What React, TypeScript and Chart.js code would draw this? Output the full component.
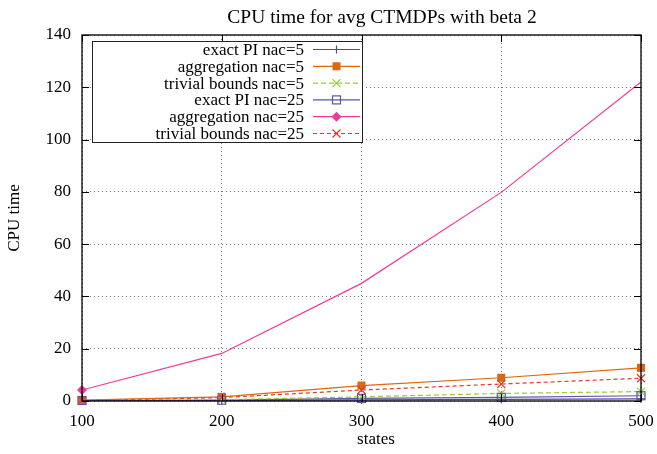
import React, { useEffect, useRef } from "react";
import { Chart, registerables } from "chart.js";

Chart.register(...registerables);

// Problem sizes (number of states)
const states = [100, 200, 300, 400, 500];

// CPU time per method
const exactPiNac5 = [0.1, 0.2, 0.4, 0.6, 0.8];
const aggregationNac5 = [0.3, 1.6, 5.9, 8.9, 12.7];
const trivialBoundsNac5 = [0.1, 0.5, 1.6, 2.9, 3.6];
const exactPiNac25 = [0.2, 0.3, 1.0, 1.4, 2.0];
const aggregationNac25 = [4.2, 18.2, 45.0, 79.8, 122.0];
const trivialBoundsNac25 = [0.2, 1.3, 4.2, 6.5, 8.7];

const yTicks = [0, 20, 40, 60, 80, 100, 120, 140];
const xTicks = [100, 200, 300, 400, 500];

const FONT = "'Liberation Serif', 'DejaVu Serif', serif";

type SeriesDef = {
  label: string;
  data: number[];
  color: string;
  marker: "plus" | "rect" | "x" | "rectOpen" | "diamond";
  dash: number[];
  radius: number[];
};

const series: SeriesDef[] = [
  { label: "exact PI nac=5", data: exactPiNac5, color: "#5a3fb0", marker: "plus", dash: [], radius: [4, 4, 4, 4, 4] },
  { label: "aggregation nac=5", data: aggregationNac5, color: "#e0650f", marker: "rect", dash: [], radius: [4, 4, 4, 4, 4] },
  { label: "trivial bounds nac=5", data: trivialBoundsNac5, color: "#94cf34", marker: "x", dash: [5, 3], radius: [4, 4, 4, 4, 4] },
  { label: "exact PI nac=25", data: exactPiNac25, color: "#5757a8", marker: "rectOpen", dash: [], radius: [4, 4, 4, 4, 4] },
  { label: "aggregation nac=25", data: aggregationNac25, color: "#ee3a9a", marker: "diamond", dash: [], radius: [5, 0, 0, 0, 0] },
  { label: "trivial bounds nac=25", data: trivialBoundsNac25, color: "#e63a2a", marker: "x", dash: [4, 3], radius: [4, 4, 4, 4, 4] },
];

function drawMarker(ctx: CanvasRenderingContext2D, kind: SeriesDef["marker"], x: number, y: number, color: string, r: number) {
  ctx.save();
  ctx.setLineDash([]);
  ctx.strokeStyle = color;
  ctx.fillStyle = color;
  ctx.lineWidth = 1.2;
  ctx.beginPath();
  if (kind === "plus") {
    ctx.moveTo(x - r, y); ctx.lineTo(x + r, y);
    ctx.moveTo(x, y - r); ctx.lineTo(x, y + r);
    ctx.stroke();
  } else if (kind === "x") {
    ctx.moveTo(x - r, y - r); ctx.lineTo(x + r, y + r);
    ctx.moveTo(x - r, y + r); ctx.lineTo(x + r, y - r);
    ctx.stroke();
  } else if (kind === "rect") {
    ctx.fillRect(x - r, y - r, 2 * r, 2 * r);
  } else if (kind === "rectOpen") {
    ctx.strokeRect(x - r, y - r, 2 * r, 2 * r);
  } else if (kind === "diamond") {
    ctx.moveTo(x, y - r); ctx.lineTo(x + r, y); ctx.lineTo(x, y + r); ctx.lineTo(x - r, y);
    ctx.closePath();
    ctx.fill();
  }
  ctx.restore();
}

const decorations = {
  id: "decorations",
  afterDatasetsDraw(chart: any) {
    const { ctx, chartArea } = chart;
    const { left, right, top, bottom } = chartArea;
    const xs = chart.scales.x;
    const ys = chart.scales.y;

    // markers drawn on top of lines
    series.forEach((s) => {
      s.data.forEach((v, i) => {
        const r = s.radius[i];
        if (r > 0) drawMarker(ctx, s.marker, xs.getPixelForValue(states[i]), ys.getPixelForValue(v), s.color, r);
      });
    });

    ctx.save();
    // inward tick marks on all four sides
    ctx.strokeStyle = "#000";
    ctx.lineWidth = 1;
    ctx.beginPath();
    yTicks.forEach((t) => {
      const y = Math.round(ys.getPixelForValue(t)) + 0.5;
      ctx.moveTo(left, y); ctx.lineTo(left + 7, y);
      ctx.moveTo(right, y); ctx.lineTo(right - 7, y);
    });
    xTicks.forEach((t) => {
      const x = Math.round(xs.getPixelForValue(t)) + 0.5;
      ctx.moveTo(x, bottom); ctx.lineTo(x, bottom - 7);
      ctx.moveTo(x, top); ctx.lineTo(x, top + 7);
    });
    ctx.stroke();

    // frame
    ctx.lineWidth = 1.3;
    ctx.strokeRect(left, top, right - left, bottom - top);

    // legend box
    const lx = 92, ly = 41, lw = 270, lh = 101;
    ctx.fillStyle = "#fff";
    ctx.fillRect(lx, ly, lw, lh);
    ctx.strokeStyle = "#222";
    ctx.lineWidth = 1;
    ctx.strokeRect(lx + 0.5, ly + 0.5, lw, lh);
    ctx.font = `17px ${FONT}`;
    ctx.textAlign = "right";
    ctx.textBaseline = "middle";
    series.forEach((s, i) => {
      const y = 49.5 + i * 16.8;
      ctx.fillStyle = "#000";
      ctx.fillText(s.label, 304, y + 1);
      ctx.strokeStyle = s.color;
      ctx.lineWidth = 1.2;
      ctx.setLineDash(s.dash);
      ctx.beginPath();
      ctx.moveTo(313, y); ctx.lineTo(360, y);
      ctx.stroke();
      ctx.setLineDash([]);
      drawMarker(ctx, s.marker, 336.5, y, s.color, s.marker === "diamond" ? 5 : 4);
    });

    // titles
    ctx.fillStyle = "#000";
    ctx.textAlign = "center";
    ctx.textBaseline = "alphabetic";
    ctx.font = `19.5px ${FONT}`;
    ctx.fillText("CPU time for avg CTMDPs with beta 2", 382, 23);
    ctx.font = `17px ${FONT}`;
    ctx.fillText("states", 376, 444);
    ctx.translate(19, 218);
    ctx.rotate(-Math.PI / 2);
    ctx.fillText("CPU time", 0, 0);
    ctx.restore();
  },
};

export default function App() {
  const canvasRef = useRef<HTMLCanvasElement | null>(null);

  useEffect(() => {
    document.body.style.margin = "0";
    const canvas = canvasRef.current;
    if (!canvas) return;
    const chart = new Chart(canvas, {
      type: "line",
      data: {
        datasets: series.map((s) => ({
          label: s.label,
          data: s.data.map((v, i) => ({ x: states[i], y: v })),
          borderColor: s.color,
          backgroundColor: s.color,
          borderWidth: 1.2,
          borderDash: s.dash,
          pointRadius: 0,
          fill: false,
          tension: 0,
        })),
      },
      options: {
        animation: false,
        responsive: false,
        devicePixelRatio: 1,
        layout: { padding: { top: 35, right: 16, left: 0, bottom: 0 } },
        plugins: { legend: { display: false }, title: { display: false }, tooltip: { enabled: false } },
        scales: {
          x: {
            type: "linear",
            min: 100,
            max: 500,
            afterBuildTicks: (scale: any) => { scale.ticks = xTicks.map((v) => ({ value: v })); },
            afterFit: (scale: any) => {
              scale.height = 53;
              scale.paddingLeft = 0;
              scale.paddingRight = 0;
            },
            grid: { color: "#777", drawTicks: false, lineWidth: 1 },
            border: { display: false, dash: [1, 3] },
            ticks: { color: "#000", font: { family: FONT, size: 17 }, padding: 10, maxRotation: 0 },
          },
          y: {
            min: 0,
            max: 140,
            afterBuildTicks: (scale: any) => { scale.ticks = yTicks.map((v) => ({ value: v })); },
            afterFit: (scale: any) => {
              scale.width = 82;
              scale.paddingTop = 0;
              scale.paddingBottom = 0;
            },
            grid: { color: "#777", drawTicks: false, lineWidth: 1 },
            border: { display: false, dash: [1, 3] },
            ticks: { color: "#000", font: { family: FONT, size: 17 }, padding: 11 },
          },
        },
      },
      plugins: [decorations],
    });
    return () => chart.destroy();
  }, []);

  return <canvas ref={canvasRef} width={657} height={454} style={{ display: "block" }} />;
}
